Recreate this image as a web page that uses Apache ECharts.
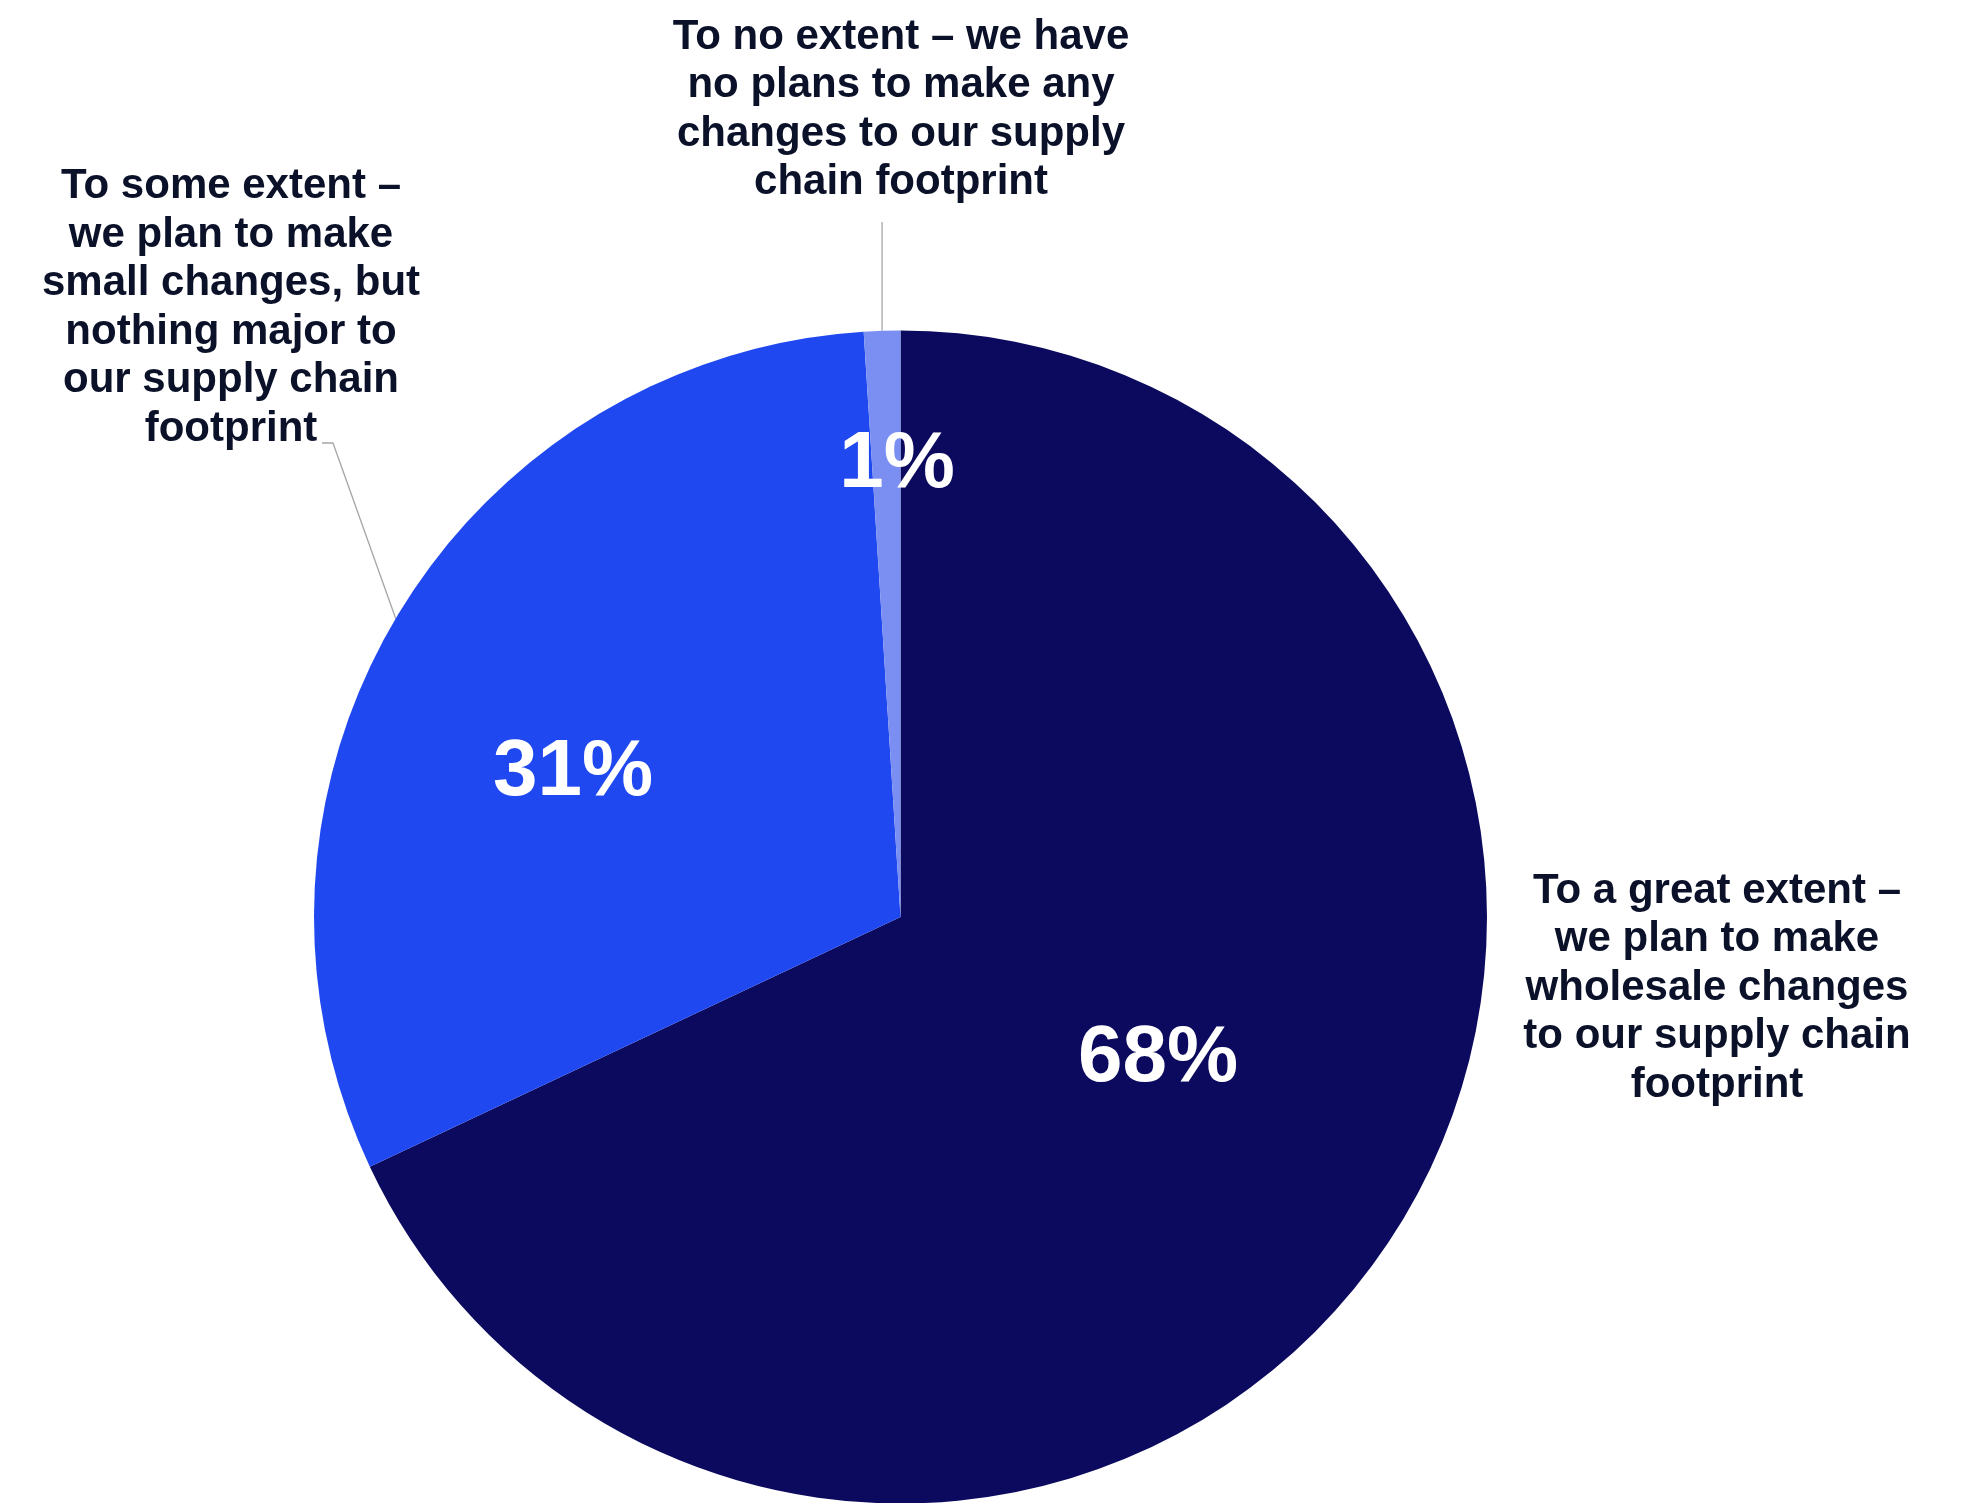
<!DOCTYPE html>
<html>
<head>
<meta charset="utf-8">
<script src="https://cdn.jsdelivr.net/npm/echarts@6/dist/echarts.min.js"></script>
<style>
  html, body { margin: 0; padding: 0; background: #ffffff; }
  #chart { width: 1973px; height: 1503px; }
</style>
</head>
<body>
<div id="chart"></div>
<script>
// ---- data ----
const categories = [
  'To a great extent –\nwe plan to make\nwholesale changes\nto our supply chain\nfootprint',
  'To some extent –\nwe plan to make\nsmall changes, but\nnothing major to\nour supply chain\nfootprint',
  'To no extent – we have\nno plans to make any\nchanges to our supply\nchain footprint'
];
const values = [68, 31, 1];

// ---- style / layout (not data) ----
const colors = ['#0b0a5e', '#1f48f0', '#7a8ff1'];
const textColor = '#0a1128';
const fontFamily = "'Liberation Sans', Arial, sans-serif";
const pieCenter = [900.5, 917];
const pieRadius = 586.5;
const innerLabelPos = [[1158, 1059], [573, 773], [897, 465]];
const outerLabelPos = [[1717, 988], [231, 308], [901, 110]];

const chart = echarts.init(document.getElementById('chart'));

const innerData = values.map((v, i) => ({
  name: categories[i],
  value: v,
  itemStyle: { color: colors[i] }
}));

const outerData = values.map((v, i) => ({
  name: categories[i],
  value: v,
  labelLine: { show: i !== 0 }
}));

function anchorOf(p) {
  if (p.labelLinePoints && p.labelLinePoints[0]) return p.labelLinePoints[0];
  return null;
}

chart.setOption({
  backgroundColor: '#ffffff',
  animation: false,
  series: [
    {
      type: 'pie',
      center: pieCenter,
      radius: pieRadius,
      startAngle: 90,
      clockwise: true,
      silent: true,
      data: innerData,
      itemStyle: { borderWidth: 0 },
      label: {
        show: true,
        position: 'inside',
        formatter: '{c}%',
        color: '#ffffff',
        fontSize: 80,
        fontWeight: 'bold',
        fontFamily: fontFamily,
        overflow: 'none'
      },
      labelLine: { show: false },
      labelLayout: function (p) {
        const pos = innerLabelPos[p.dataIndex];
        return { x: pos[0], y: pos[1], align: 'center', verticalAlign: 'middle' };
      }
    },
    {
      type: 'pie',
      center: pieCenter,
      radius: pieRadius,
      startAngle: 90,
      clockwise: true,
      silent: true,
      data: outerData,
      itemStyle: { color: 'rgba(0,0,0,0)', borderWidth: 0 },
      label: {
        show: true,
        position: 'outside',
        formatter: '{b}',
        color: textColor,
        fontSize: 42,
        lineHeight: 48.5,
        fontWeight: 'bold',
        fontFamily: fontFamily,
        align: 'center',
        overflow: 'none',
        width: 600
      },
      labelLine: {
        show: true,
        length: 20,
        length2: 10,
        lineStyle: { color: '#a6a6a6', width: 1.3 }
      },
      labelLayout: function (p) {
        const pos = outerLabelPos[p.dataIndex];
        const res = { x: pos[0], y: pos[1], align: 'center', verticalAlign: 'middle' };
        const a = anchorOf(p);
        if (a) {
          if (p.dataIndex === 2) {
            res.labelLinePoints = [[a[0], a[1]], [a[0], 222]];
          } else if (p.dataIndex === 1) {
            res.labelLinePoints = [[a[0], a[1]], [333, 443], [322, 443]];
          }
        }
        return res;
      }
    }
  ]
});
</script>
</body>
</html>
